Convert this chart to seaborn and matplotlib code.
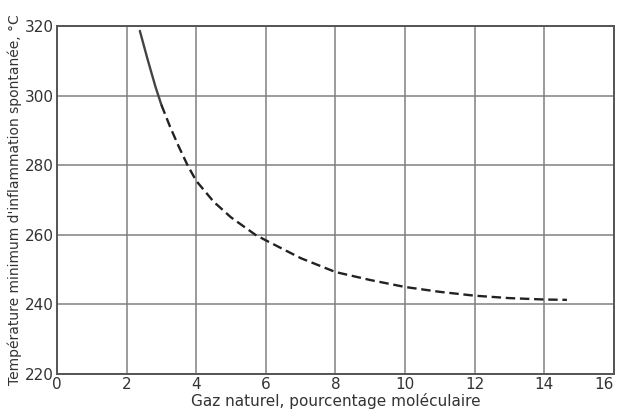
import pandas as pd
import matplotlib.pyplot as plt
import seaborn as sns

# Curve: solid part at the start, dashed for the rest
x_solid = [2.38, 2.6, 2.83, 3.0]
y_solid = [318.6, 310.5, 302.5, 297.3]
x_dash = [3.0, 3.25, 3.5, 3.75, 4, 4.5, 5, 5.7, 6, 7, 8, 9, 10, 11, 12, 13, 14, 14.65]
y_dash = [297.3, 291, 285.3, 280, 275.5, 269.5, 265, 260, 258.4, 253.3, 249.3, 247, 245, 243.6, 242.5, 241.8, 241.4, 241.3]

x_ticks = [0, 2, 4, 6, 8, 10, 12, 14, 16]
y_ticks = [220, 240, 260, 280, 300, 320]

sns.set_style("whitegrid")
plt.rcParams['font.family'] = ['DejaVu Sans']

df_solid = pd.DataFrame({'x': x_solid, 'y': y_solid})
df_dash = pd.DataFrame({'x': x_dash, 'y': y_dash})

fig = plt.figure(figsize=(6.17, 4.16), dpi=100)
ax = fig.add_axes([0.0924, 0.101, 0.9026, 0.8365])

sns.lineplot(data=df_solid, x='x', y='y', ax=ax, color='#444444', linewidth=1.7)
sns.lineplot(data=df_dash, x='x', y='y', ax=ax, color='#222222', linewidth=1.7,
             linestyle=(0, (4, 2)))

ax.set_xlim(0, 16)
ax.set_ylim(220, 320)
ax.set_xticks(x_ticks)
ax.set_yticks(y_ticks)
ax.grid(True, color='#808080', linewidth=1.1)
for s in ax.spines.values():
    s.set_visible(True)
    s.set_color('#555555')
    s.set_linewidth(1.4)
ax.tick_params(axis='both', length=0, pad=2, labelsize=11, colors='#333333')
# last x label sits inside the right edge, as in the original
ax.get_xticklabels()[-1].set_horizontalalignment('right')
ax.set_xlabel("Gaz naturel, pourcentage moléculaire", fontsize=11, color='#333333', labelpad=1)
ax.set_ylabel("Température minimum d'inflammation spontanée, °C", fontsize=10, color='#333333', labelpad=2)

plt.savefig("out.png", dpi=100)
